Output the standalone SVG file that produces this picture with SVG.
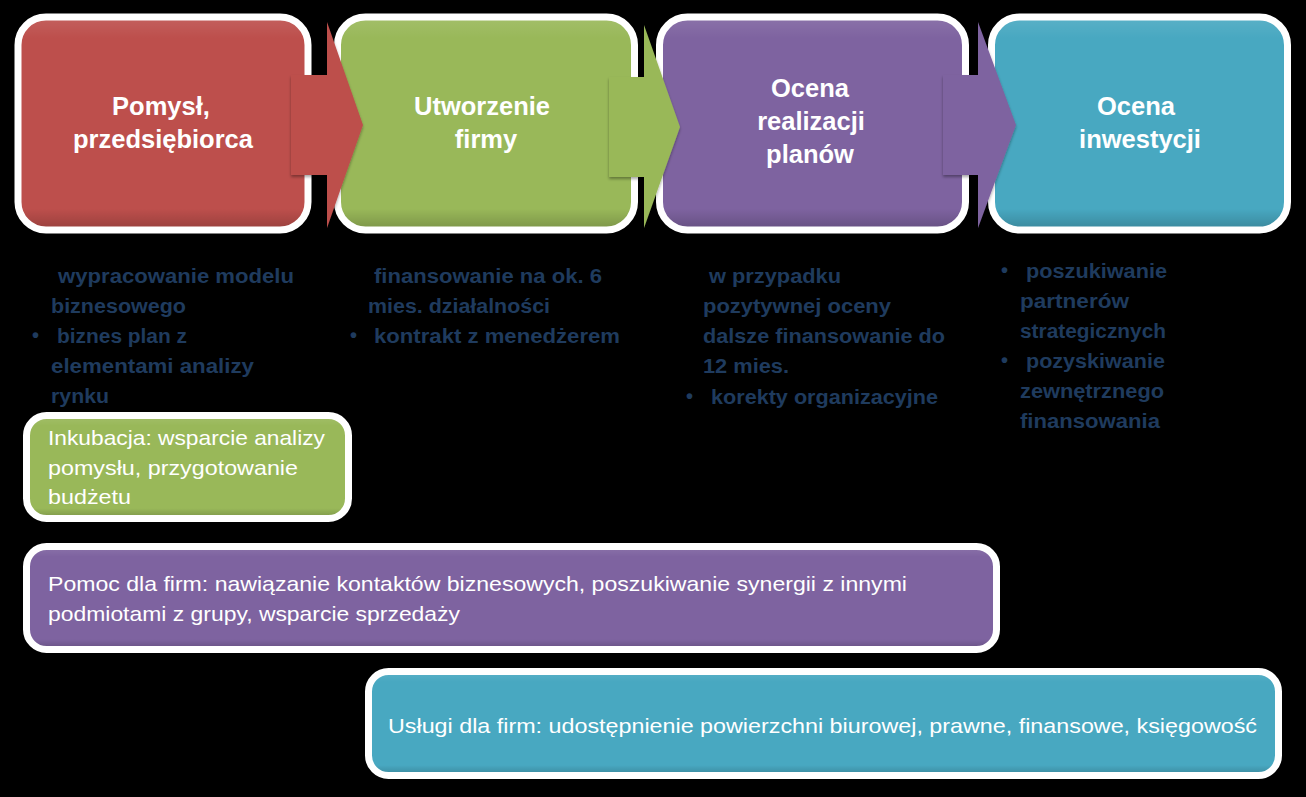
<svg xmlns="http://www.w3.org/2000/svg" width="1306" height="797" viewBox="0 0 1306 797">
<defs>
<linearGradient id="shade" x1="0" y1="0" x2="0" y2="1">
<stop offset="0" stop-color="#fff" stop-opacity="0.10"/>
<stop offset="0.1" stop-color="#fff" stop-opacity="0"/>
<stop offset="0.9" stop-color="#000" stop-opacity="0"/>
<stop offset="1" stop-color="#000" stop-opacity="0.2"/>
</linearGradient>
<filter id="sh" x="-10%" y="-10%" width="120%" height="130%">
<feDropShadow dx="0" dy="2" stdDeviation="1.5" flood-color="#000" flood-opacity="0.35"/>
</filter>
</defs>
<style>
.bg{fill:#000}
.frame{fill:none;stroke:#fff;stroke-width:7}
.ov{fill:url(#shade)}
.red{fill:#BD4F4C}
.green{fill:#99B859}
.purple{fill:#7E63A0}
.teal{fill:#48A8C1}
.title{font-family:"Liberation Sans",Arial,sans-serif;font-weight:bold;font-size:25.5px;fill:#fff;text-anchor:middle}
.list{font-family:"Liberation Sans",Arial,sans-serif;font-weight:bold;font-size:20px;fill:#1F3B5E}
.body{font-family:"Liberation Sans",Arial,sans-serif;font-size:21px;fill:#fff}
</style>
<rect class="bg" x="0" y="0" width="1306" height="797"/>

<g id="node-pomysl">
<rect class="red" x="18" y="17" width="290" height="213" rx="28"/>
<rect class="ov" x="18" y="17" width="290" height="213" rx="28"/>
<rect class="frame" x="18" y="17" width="290" height="213" rx="28"/>
<text class="title" x="161" y="115">Pomysł,</text>
<text class="title" x="163" y="148">przedsiębiorca</text>
</g>

<g id="node-utworzenie">
<rect class="green" x="337.5" y="17" width="297" height="213" rx="28"/>
<rect class="ov" x="337.5" y="17" width="297" height="213" rx="28"/>
<rect class="frame" x="337.5" y="17" width="297" height="213" rx="28"/>
<text class="title" x="482" y="115">Utworzenie</text>
<text class="title" x="486" y="148">firmy</text>
</g>

<g id="node-ocena-realizacji">
<rect class="purple" x="659.5" y="17" width="306" height="213" rx="28"/>
<rect class="ov" x="659.5" y="17" width="306" height="213" rx="28"/>
<rect class="frame" x="659.5" y="17" width="306" height="213" rx="28"/>
<text class="title" x="810" y="97">Ocena</text>
<text class="title" x="811" y="130">realizacji</text>
<text class="title" x="810" y="163">planów</text>
</g>

<g id="node-ocena-inwestycji">
<rect class="teal" x="991.5" y="17" width="296" height="213" rx="28"/>
<rect class="ov" x="991.5" y="17" width="296" height="213" rx="28"/>
<rect class="frame" x="991.5" y="17" width="296" height="213" rx="28"/>
<text class="title" x="1136" y="115">Ocena</text>
<text class="title" x="1140" y="148">inwestycji</text>
</g>

<g id="connectors">
<polygon class="red" filter="url(#sh)" points="291,75 327,75 327,22 363,125 327,228 327,175 291,175"/>
<polygon class="green" filter="url(#sh)" points="609,77 644,77 644,25 680,127 644,228 644,177 609,177"/>
<polygon class="purple" filter="url(#sh)" points="943,75 978,75 978,22 1016,125 978,228 978,175 943,175"/>
</g>

<g id="list-pomysl">
<text class="list" x="58" y="283" textLength="236" lengthAdjust="spacingAndGlyphs">wypracowanie modelu</text>
<text class="list" x="51" y="313" textLength="135" lengthAdjust="spacingAndGlyphs">biznesowego</text>
<text class="list" x="32" y="342">•</text>
<text class="list" x="57" y="343" textLength="130" lengthAdjust="spacingAndGlyphs">biznes plan z</text>
<text class="list" x="51" y="373" textLength="203" lengthAdjust="spacingAndGlyphs">elementami analizy</text>
<text class="list" x="51" y="403" textLength="58" lengthAdjust="spacingAndGlyphs">rynku</text>
</g>

<g id="list-utworzenie">
<text class="list" x="374" y="283" textLength="228" lengthAdjust="spacingAndGlyphs">finansowanie na ok. 6</text>
<text class="list" x="368" y="313" textLength="182" lengthAdjust="spacingAndGlyphs">mies. działalności</text>
<text class="list" x="350" y="342">•</text>
<text class="list" x="374" y="343" textLength="246" lengthAdjust="spacingAndGlyphs">kontrakt z menedżerem</text>
</g>

<g id="list-ocena-realizacji">
<text class="list" x="709" y="283" textLength="132" lengthAdjust="spacingAndGlyphs">w przypadku</text>
<text class="list" x="703" y="313" textLength="188" lengthAdjust="spacingAndGlyphs">pozytywnej oceny</text>
<text class="list" x="703" y="343" textLength="242" lengthAdjust="spacingAndGlyphs">dalsze finansowanie do</text>
<text class="list" x="703" y="373" textLength="86" lengthAdjust="spacingAndGlyphs">12 mies.</text>
<text class="list" x="686" y="403">•</text>
<text class="list" x="711" y="404" textLength="227" lengthAdjust="spacingAndGlyphs">korekty organizacyjne</text>
</g>

<g id="list-ocena-inwestycji">
<text class="list" x="1001" y="277">•</text>
<text class="list" x="1026" y="278" textLength="141" lengthAdjust="spacingAndGlyphs">poszukiwanie</text>
<text class="list" x="1020" y="308" textLength="109" lengthAdjust="spacingAndGlyphs">partnerów</text>
<text class="list" x="1020" y="338" textLength="146" lengthAdjust="spacingAndGlyphs">strategicznych</text>
<text class="list" x="1001" y="367">•</text>
<text class="list" x="1026" y="368" textLength="139" lengthAdjust="spacingAndGlyphs">pozyskiwanie</text>
<text class="list" x="1020" y="398" textLength="144" lengthAdjust="spacingAndGlyphs">zewnętrznego</text>
<text class="list" x="1020" y="428" textLength="140" lengthAdjust="spacingAndGlyphs">finansowania</text>
</g>

<g id="node-inkubacja">
<rect class="green" x="26.5" y="415.5" width="322" height="103" rx="20"/>
<rect class="ov" x="26.5" y="415.5" width="322" height="103" rx="20"/>
<rect class="frame" x="26.5" y="415.5" width="322" height="103" rx="20"/>
<text class="body" x="48" y="445" textLength="277" lengthAdjust="spacingAndGlyphs">Inkubacja: wsparcie analizy</text>
<text class="body" x="48" y="475" textLength="250" lengthAdjust="spacingAndGlyphs">pomysłu, przygotowanie</text>
<text class="body" x="48" y="504" textLength="83" lengthAdjust="spacingAndGlyphs">budżetu</text>
</g>

<g id="node-pomoc">
<rect class="purple" x="26.5" y="546.5" width="970" height="103" rx="20"/>
<rect class="ov" x="26.5" y="546.5" width="970" height="103" rx="20"/>
<rect class="frame" x="26.5" y="546.5" width="970" height="103" rx="20"/>
<text class="body" x="48" y="591" textLength="859" lengthAdjust="spacingAndGlyphs">Pomoc dla firm: nawiązanie kontaktów biznesowych, poszukiwanie synergii z innymi</text>
<text class="body" x="48" y="621" textLength="412" lengthAdjust="spacingAndGlyphs">podmiotami z grupy, wsparcie sprzedaży</text>
</g>

<g id="node-uslugi">
<rect class="teal" x="368.5" y="671.5" width="910" height="104" rx="20"/>
<rect class="ov" x="368.5" y="671.5" width="910" height="104" rx="20"/>
<rect class="frame" x="368.5" y="671.5" width="910" height="104" rx="20"/>
<text class="body" x="388" y="733" textLength="869" lengthAdjust="spacingAndGlyphs">Usługi dla firm: udostępnienie powierzchni biurowej, prawne, finansowe, księgowość</text>
</g>
</svg>
